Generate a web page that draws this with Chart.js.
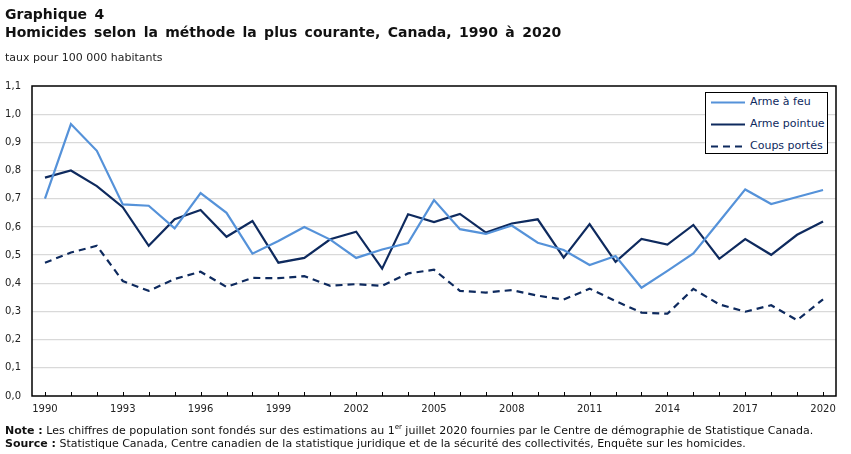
<!DOCTYPE html>
<html lang="fr">
<head>
<meta charset="utf-8">
<script src="https://cdn.jsdelivr.net/npm/chart.js@4"></script>
<style>
  body { margin: 0; background: #fff; font-family: "DejaVu Sans", Verdana, sans-serif; color: #000; }
  #wrap { position: relative; width: 851px; height: 454px; overflow: hidden; }
  #chart { position: absolute; left: 0; top: 0; }
  .title { position: absolute; left: 5px; font-size: 14px; font-weight: bold; white-space: nowrap; word-spacing: 2.5px; color: #111; }
  #t1 { top: 6px; }
  #t2 { top: 24px; }
  #unit { position: absolute; left: 5px; top: 51px; font-size: 11px; color: #222; }
  #legend { position: absolute; left: 705px; top: 92px; width: 121px; height: 60px; border: 1px solid #000; background: #fff; font-size: 11px; }
  .item { position: absolute; left: 5px; height: 14px; white-space: nowrap; color: #0e2a5e; }
  .item svg { position: absolute; left: 0; top: 6px; }
  .item span { position: absolute; left: 39px; top: 0; }
  #notes { position: absolute; left: 5px; top: 421px; font-size: 11px; line-height: 13px; white-space: nowrap; color: #111; }
  sup { font-size: 7px; }
</style>
</head>
<body>
<div id="wrap">
  <canvas id="chart" width="851" height="454"></canvas>
  <div class="title" id="t1">Graphique 4</div>
  <div class="title" id="t2">Homicides selon la méthode la plus courante, Canada, 1990 à 2020</div>
  <div id="unit">taux pour 100 000 habitants</div>
  <div id="legend"></div>
  <div id="notes">
    <div><b>Note :</b> Les chiffres de population sont fondés sur des estimations au 1<sup>er</sup> juillet 2020 fournies par le Centre de démographie de Statistique Canada.</div>
    <div><b>Source :</b> Statistique Canada, Centre canadien de la statistique juridique et de la sécurité des collectivités, Enquête sur les homicides.</div>
  </div>
</div>
<script>
// -----------------------------
// Data
// -----------------------------
const years = [
  "1990", "1991", "1992", "1993", "1994", "1995", "1996", "1997", "1998", "1999",
  "2000", "2001", "2002", "2003", "2004", "2005", "2006", "2007", "2008", "2009",
  "2010", "2011", "2012", "2013", "2014", "2015", "2016", "2017", "2018", "2019", "2020"
];

const armeAFeu = [
  0.70, 0.965, 0.87, 0.68, 0.675, 0.595, 0.72, 0.65, 0.505, 0.55,
  0.60, 0.555, 0.49, 0.52, 0.543, 0.695, 0.592, 0.575, 0.605, 0.544,
  0.518, 0.465, 0.497, 0.384, 0.444, 0.506, 0.619, 0.733, 0.681, 0.706, 0.731
];

const armePointue = [
  0.775, 0.80, 0.745, 0.67, 0.533, 0.627, 0.66, 0.565, 0.621, 0.473,
  0.49, 0.556, 0.583, 0.452, 0.645, 0.617, 0.646, 0.58, 0.612, 0.627,
  0.491, 0.61, 0.476, 0.557, 0.537, 0.607, 0.487, 0.557, 0.501, 0.572, 0.619
];

const coupsPortes = [
  0.473, 0.509, 0.533, 0.408, 0.373, 0.415, 0.441, 0.387, 0.419, 0.418,
  0.425, 0.391, 0.397, 0.391, 0.435, 0.448, 0.373, 0.367, 0.376, 0.356,
  0.342, 0.381, 0.337, 0.296, 0.292, 0.38, 0.325, 0.299, 0.322, 0.269, 0.343
];

const series = [
  { label: "Arme à feu", data: armeAFeu, color: "#5592d9", dash: [] },
  { label: "Arme pointue", data: armePointue, color: "#0e2a5e", dash: [] },
  { label: "Coups portés", data: coupsPortes, color: "#0e2a5e", dash: [7, 5] }
];

// -----------------------------
// Legend (HTML)
// -----------------------------
const legendBox = document.getElementById("legend");
series.forEach((s, i) => {
  const item = document.createElement("div");
  item.className = "item";
  item.style.top = (2 + i * 22) + "px";
  item.innerHTML =
    `<svg width="36" height="3"><line x1="0" y1="1.5" x2="34" y2="1.5" stroke="${s.color}" stroke-width="2.2"` +
    (s.dash.length ? ` stroke-dasharray="${s.dash.join(",")}"` : "") + `/></svg><span>${s.label}</span>`;
  legendBox.appendChild(item);
});

// -----------------------------
// Plot frame + inner tick marks
// -----------------------------
const framePlugin = {
  id: "plotFrame",
  afterDraw(chart) {
    const { ctx, chartArea: a, scales } = chart;
    ctx.save();
    ctx.strokeStyle = "#000";
    ctx.lineWidth = 1.5;
    ctx.strokeRect(a.left, a.top, a.right - a.left, a.bottom - a.top);
    ctx.lineWidth = 1;
    ctx.beginPath();
    scales.x.ticks.forEach((t, i) => {
      const x = Math.round(scales.x.getPixelForTick(i)) + 0.5;
      ctx.moveTo(x, a.bottom);
      ctx.lineTo(x, a.bottom - 4);
    });
    ctx.stroke();
    ctx.restore();
  }
};

Chart.defaults.font.family = "'DejaVu Sans', Verdana, sans-serif";
Chart.defaults.font.size = 10;
Chart.defaults.color = "#222";

const ctx = document.getElementById("chart").getContext("2d");
const chart = new Chart(ctx, {
  type: "line",
  data: {
    labels: years,
    datasets: series.map(s => ({
      label: s.label,
      data: s.data,
      borderColor: s.color,
      backgroundColor: s.color,
      borderWidth: 2.2,
      borderDash: s.dash,
      pointRadius: 0,
      tension: 0,
      fill: false
    }))
  },
  options: {
    responsive: false,
    animation: false,
    layout: { padding: { top: 86, right: 15, bottom: 34, left: 0 } },
    plugins: {
      legend: { display: false },
      tooltip: { enabled: false }
    },
    scales: {
      x: {
        offset: true,
        grid: { display: false, drawTicks: false },
        border: { display: false },
        ticks: {
          autoSkip: false,
          maxRotation: 0,
          padding: 7,
          callback: (v, i) => (i % 3 === 0 ? years[i] : "")
        },
        afterFit: s => { s.height = 24; }
      },
      y: {
        min: 0,
        max: 1.1,
        grid: {
          color: ctx => (ctx.tick.value > 1.05 || ctx.tick.value < 0.05 ? "rgba(0,0,0,0)" : "#d9d9d9"),
          lineWidth: 1.2,
          drawTicks: false
        },
        border: { display: false },
        ticks: {
          stepSize: 0.1,
          padding: 11,
          callback: v => v.toFixed(1).replace(".", ",")
        },
        afterFit: s => { s.width = 32; }
      }
    }
  },
  plugins: [framePlugin]
});
</script>
</body>
</html>
